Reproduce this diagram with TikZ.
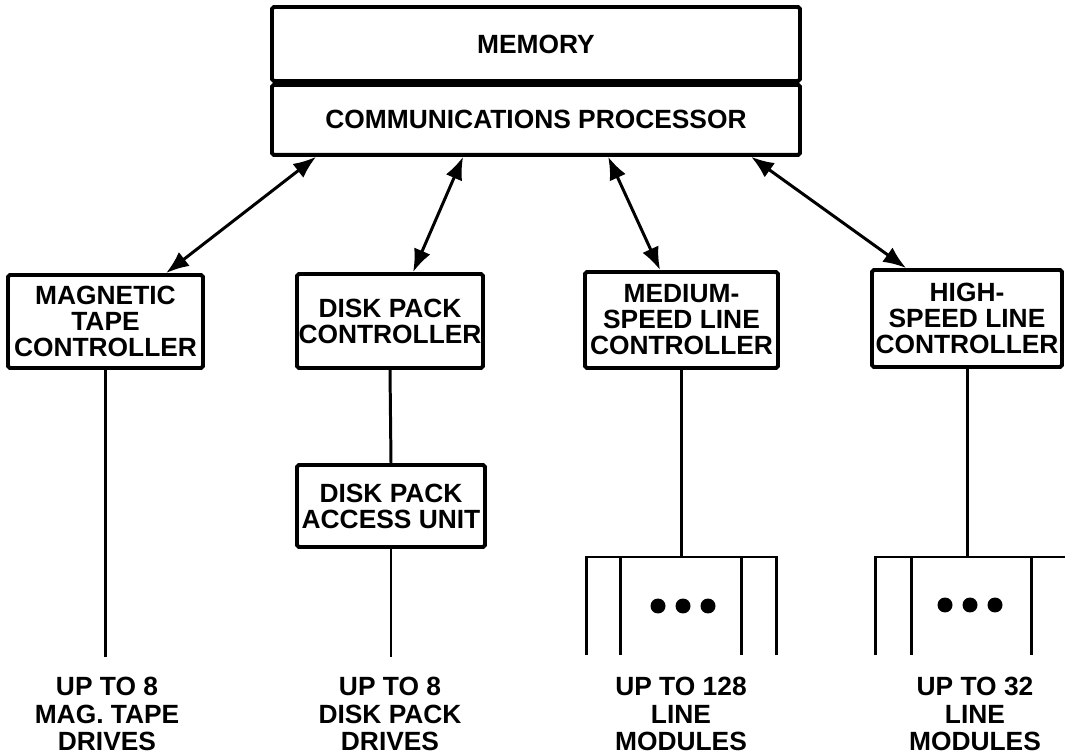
\documentclass[tikz,border=0pt]{standalone}
\usepackage{fontspec}
\setmainfont{Liberation Sans}
\usetikzlibrary{arrows.meta,calc}

\newcommand\boxfont{\bfseries\fontsize{15}{14.8}\selectfont}
\newcommand\drivefont{\bfseries\fontsize{15}{15.8}\selectfont}

\begin{document}
\begin{tikzpicture}[x=0.02cm,y=-0.02cm,
    unit/.style={draw,line width=2.2pt,rounded corners=1pt,inner sep=0pt,align=center,font=\boxfont},
    link/.style={line width=1.7pt},
    bus/.style={line width=1.7pt,{Latex[length=13pt,width=10pt]}-{Latex[length=13pt,width=10pt]}},
    dot/.style={circle,fill,inner sep=0pt,minimum size=0.3cm},
    drives/.style={align=center,font=\drivefont}]
  \useasboundingbox (0,0) rectangle (1065,756);

  % memory and processor
  \node[unit,minimum width=10.56cm,minimum height=1.48cm] (mem) at (536,44) {MEMORY};
  \node[unit,minimum width=10.56cm,minimum height=1.40cm,anchor=north] (cp) at (mem.south) {COMMUNICATIONS PROCESSOR};

  % controllers
  \node[unit,minimum width=3.9cm,minimum height=1.86cm] (mtc) at (105.5,321.5) {MAGNETIC\\TAPE\\CONTROLLER};
  \node[unit,minimum width=3.72cm,minimum height=1.88cm] (dpc) at (390,321) {DISK PACK\\CONTROLLER};
  \node[unit,minimum width=3.86cm,minimum height=1.92cm] (msc) at (681.5,320) {MEDIUM-\\SPEED LINE\\CONTROLLER};
  \node[unit,minimum width=3.8cm,minimum height=1.94cm] (hsc) at (967,318.5) {HIGH-\\SPEED LINE\\CONTROLLER};
  \node[unit,minimum width=3.76cm,minimum height=1.64cm] (dpa) at (391,506) {DISK PACK\\ACCESS UNIT};

  \draw[bus] ($(cp.south west)+(46,0)$) -- ($(mtc.north west)+(160,0)$);
  \draw[bus] ($(cp.south west)+(193,0)$) -- ($(dpc.north west)+(118,0)$);
  \draw[bus] ($(cp.south west)+(338,0)$) -- ($(msc.north west)+(77,0)$);
  \draw[bus] ($(cp.south west)+(481,0)$) -- ($(hsc.north west)+(36,0)$);

  % lines down to the drives
  \coordinate (mtcEnd) at (105.5,657);
  \coordinate (dpaEnd) at (391,657);
  \coordinate (mscTop) at (681.5,557);
  \coordinate (hscTop) at (967,557);
  \draw[link] (mtc.south) -- (mtcEnd);
  \draw[link] (dpc.south) -- (dpa.north);
  \draw[link] (dpa.south) -- (dpaEnd);
  \draw[link] (msc.south) -- (mscTop);
  \draw[link] (hsc.south) -- (hscTop);

  % line module racks
  \draw[link] (586,655) -- (586,557) -- (776,557) -- (776,655);
  \foreach \x in {620,741} \draw[link] (\x,557) -- (\x,655);
  \draw[link] (875,655) -- (875,557) -- (1065,557);
  \foreach \x in {911,1031} \draw[link] (\x,557) -- (\x,655);
  \foreach \x in {658,683,708} \node[dot] at (\x,606) {};
  \foreach \x in {945,970,995} \node[dot] at (\x,605) {};

  \node[drives] (mtd) at (107,714) {UP TO 8\\MAG. TAPE\\DRIVES};
  \node[drives] (dpd) at (390,714) {UP TO 8\\DISK PACK\\DRIVES};
  \node[drives] (mlm) at (681,714) {UP TO 128\\LINE\\MODULES};
  \node[drives] (hlm) at (975,714) {UP TO 32\\LINE\\MODULES};
\end{tikzpicture}
\end{document}
